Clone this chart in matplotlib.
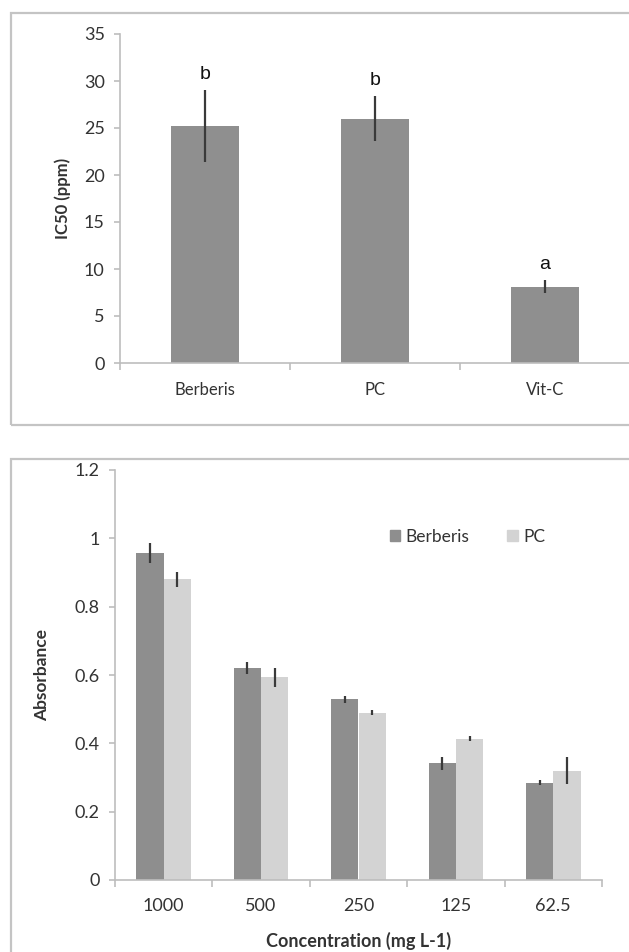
import numpy as np
import matplotlib
matplotlib.use("Agg")
import matplotlib.pyplot as plt
from matplotlib.patches import Rectangle, Patch

# top panel data
ic_names = ["Berberis", "PC", "Vit-C"]
ic50 = [25.2, 26.0, 8.1]
ic50_err = [3.8, 2.4, 0.7]
ic_letters = ["b", "b", "a"]

# bottom panel data
conc = ["1000", "500", "250", "125", "62.5"]
abs_berberis = [0.957, 0.621, 0.529, 0.342, 0.285]
abs_berberis_err = [0.030, 0.018, 0.010, 0.019, 0.007]
abs_pc = [0.880, 0.593, 0.490, 0.414, 0.320]
abs_pc_err = [0.021, 0.028, 0.007, 0.008, 0.040]

plt.rcParams['font.family'] = ['Lato', 'DejaVu Sans']

W, H = 629, 952
fig = plt.figure(figsize=(W / 100, H / 100), dpi=100)

def px_axes(left, top, right, bottom):
    # pixel box (from top-left) -> figure fraction
    return fig.add_axes([left / W, 1 - bottom / H, (right - left) / W, (bottom - top) / H])

frame_col = "#c4c4c4"
axis_col = "#bdbdbd"
txt_col = "#333333"
dark = "#8e8e8e"
light = "#d3d3d3"
err_col = "#3a3a3a"

# panel frames
fig.patches.append(Rectangle((11 / W, 1 - 425 / H), 640 / W, 412 / H, transform=fig.transFigure,
                             fill=False, edgecolor=frame_col, linewidth=1.6))
fig.patches.append(Rectangle((11 / W, -0.05), 640 / W, 1 - 459 / H + 0.05, transform=fig.transFigure,
                             fill=False, edgecolor=frame_col, linewidth=1.6))

def style_axes(ax, n, xpad):
    for s in ["top", "right"]:
        ax.spines[s].set_visible(False)
    for s in ["left", "bottom"]:
        ax.spines[s].set_color(axis_col)
        ax.spines[s].set_linewidth(1.2)
    ax.set_xlim(-0.5, n - 0.5)
    ax.set_xticks(np.arange(n))
    ax.set_xticks(np.arange(n + 1) - 0.5, minor=True)
    ax.tick_params(axis='x', which='major', length=0, pad=xpad, colors=txt_col)
    ax.tick_params(axis='x', which='minor', length=5, width=1.2, color=axis_col, direction='out')
    ax.tick_params(axis='y', length=4, width=1.2, color=axis_col, colors=txt_col, pad=7)

# ---- top: IC50 ----
ax1 = px_axes(120, 34, 630, 363)
x1 = np.arange(len(ic_names))
ax1.bar(x1, ic50, width=0.4, color="#8f8f8f")
ax1.errorbar(x1, ic50, yerr=ic50_err, fmt='none', ecolor=err_col, elinewidth=1.6, capsize=0)
ax1.set_ylim(0, 35)
ax1.set_yticks(range(0, 36, 5))
ax1.set_xticklabels(ic_names, fontsize=12)
ax1.tick_params(axis='y', labelsize=13, labelcolor=txt_col)
style_axes(ax1, 3, 14)
for xi, v, e, lab in zip(x1, ic50, ic50_err, ic_letters):
    ax1.text(xi, v + e + 0.8, lab, ha='center', va='bottom', fontsize=14,
             family=['Liberation Sans'], color="#111111")
ax1.set_ylabel("IC50 (ppm)", fontsize=12, fontweight='bold', color=txt_col, labelpad=9)

# ---- bottom: absorbance ----
ax2 = px_axes(115, 470, 602, 880)
x2 = np.arange(len(conc))
bw = 0.28
ax2.bar(x2 - bw / 2, abs_berberis, width=bw, color=dark, label="Berberis")
ax2.bar(x2 + bw / 2, abs_pc, width=bw, color=light, label="PC")
ax2.errorbar(x2 - bw / 2, abs_berberis, yerr=abs_berberis_err, fmt='none', ecolor=err_col,
             elinewidth=1.6, capsize=0)
ax2.errorbar(x2 + bw / 2, abs_pc, yerr=abs_pc_err, fmt='none', ecolor=err_col,
             elinewidth=1.6, capsize=0)
ax2.set_ylim(0, 1.2)
ax2.set_yticks([0, 0.2, 0.4, 0.6, 0.8, 1, 1.2])
ax2.set_yticklabels(["0", "0.2", "0.4", "0.6", "0.8", "1", "1.2"])
ax2.set_xticklabels(conc, fontsize=13)
ax2.tick_params(axis='y', labelsize=13, labelcolor=txt_col)
style_axes(ax2, 5, 13)
ax2.set_ylabel("Absorbance", fontsize=12.5, fontweight='bold', color=txt_col, labelpad=18)
ax2.set_xlabel("Concentration (mg L-1)", fontsize=13, fontweight='bold', color=txt_col, labelpad=13)
ax2.legend(handles=[Patch(color=dark), Patch(color=light)], labels=["Berberis", "PC"],
           loc='center left', bbox_to_anchor=(374 / W, 1 - 537 / H), bbox_transform=fig.transFigure,
           ncol=2, frameon=False, fontsize=12.5, handlelength=0.6, handleheight=0.6,
           handletextpad=0.3, columnspacing=2.2, labelcolor=txt_col)

fig.savefig("out.png", dpi=100)
